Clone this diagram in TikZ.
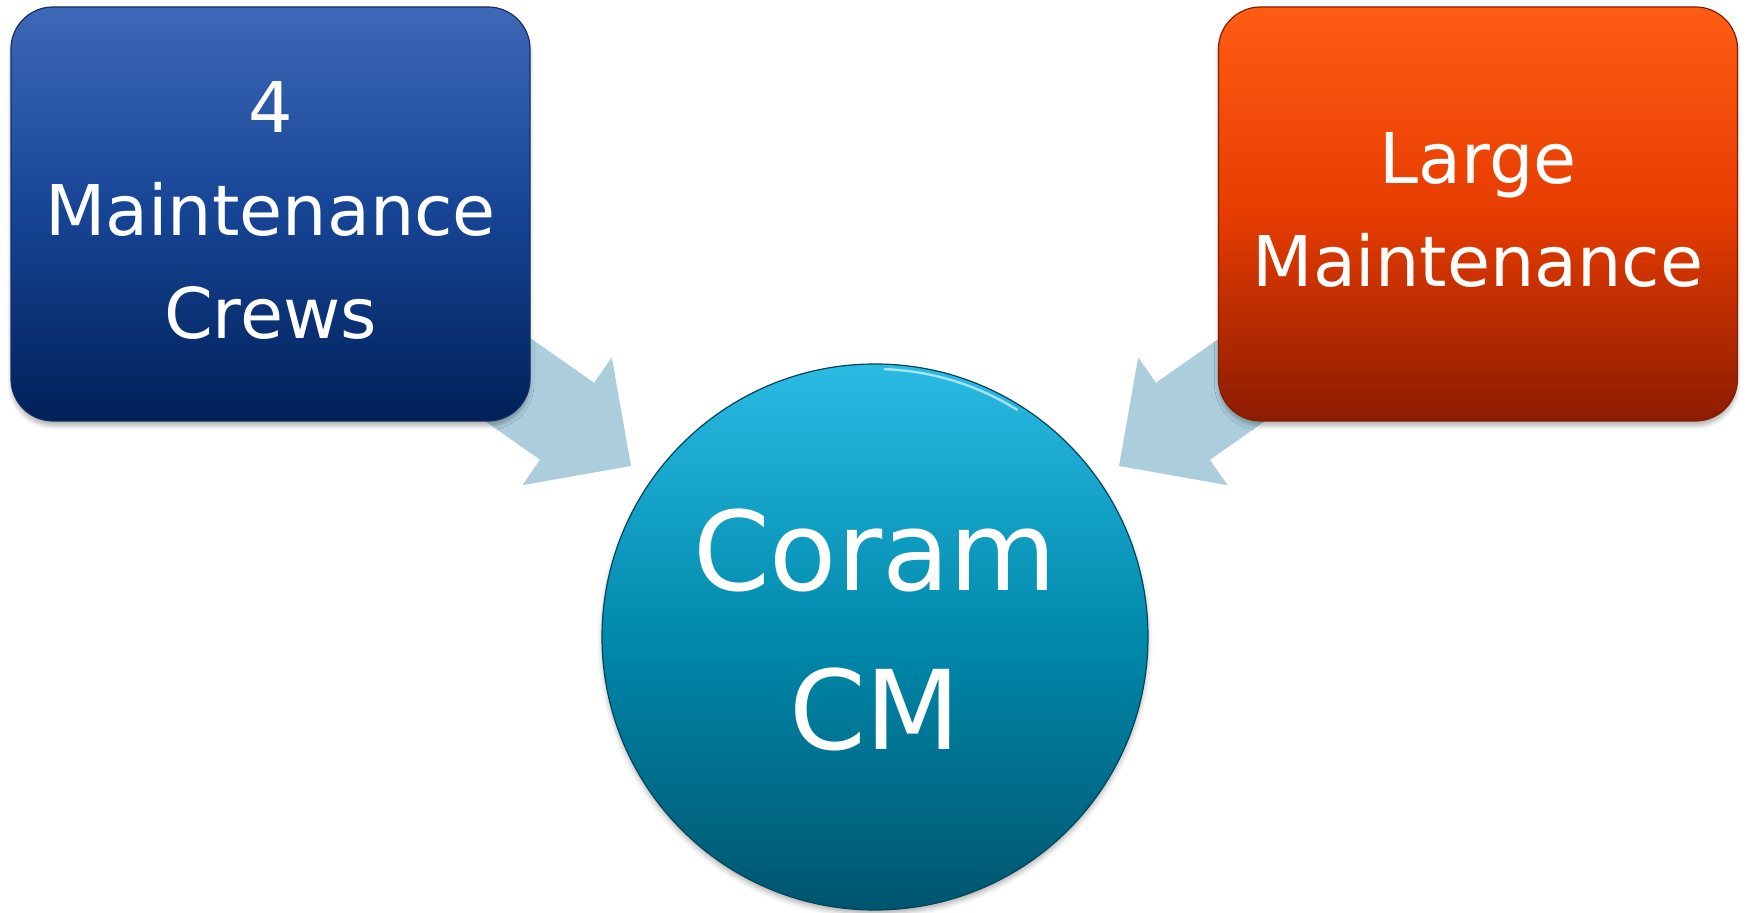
\documentclass[tikz,border=0pt]{standalone}
\usepackage{fontspec}
\setmainfont{DejaVu Sans}
\usetikzlibrary{shadows.blur}
\definecolor{blueTop}{RGB}{62,104,184}
\definecolor{blueMid}{RGB}{22,68,148}
\definecolor{blueBot}{RGB}{0,32,88}
\definecolor{blueEdge}{RGB}{20,45,100}
\definecolor{orTop}{RGB}{255,92,20}
\definecolor{orMid}{RGB}{230,60,0}
\definecolor{orBot}{RGB}{140,28,0}
\definecolor{orEdge}{RGB}{130,30,0}
\definecolor{ciTop}{RGB}{42,187,227}
\definecolor{ciMid}{RGB}{0,137,172}
\definecolor{ciBot}{RGB}{0,85,110}
\definecolor{ciEdge}{RGB}{0,70,90}
\definecolor{arrowFill}{RGB}{172,206,220}
\tikzset{
  sqbox/.style={rounded corners=21pt, minimum width=259.5pt, minimum height=207pt,
    inner sep=0pt, line width=0.6pt,
    blur shadow={shadow xshift=0pt, shadow yshift=-2.5pt, shadow blur radius=2pt, shadow opacity=28}},
  boxtext/.style={inner sep=0pt, align=center, text=white, font=\fontsize{35}{51.5}\selectfont},
  hubcircle/.style={circle, minimum size=273pt, inner sep=0pt, line width=0.6pt,
    top color=ciTop, bottom color=ciBot, middle color=ciMid, draw=ciEdge,
    blur shadow={shadow xshift=0pt, shadow yshift=-2pt, shadow blur radius=2.5pt, shadow opacity=30}},
  hubtext/.style={inner sep=0pt, align=center, text=white, font=\fontsize{55}{79.5}\selectfont},
  bigarrow/.style={fill=arrowFill, draw=none}
}
\begin{document}
\begin{tikzpicture}[x=0.5pt, y=-0.5pt]
\useasboundingbox (0,0) rectangle (1747,913);
% arrows (behind)
\coordinate (lt) at (631,466);
\filldraw[bigarrow] (lt) -- (611.8,357.4) -- (594.1,382.8) -- (387.7,238.2) -- (333.7,315.2) -- (540.1,459.8) -- (522.4,485.2) -- cycle;
\coordinate (rt) at (1119,466);
\filldraw[bigarrow] (rt) -- (1138.2,357.4) -- (1155.9,382.8) -- (1362.3,238.2) -- (1416.3,315.2) -- (1209.9,459.8) -- (1227.6,485.2) -- cycle;
% boxes
\node[sqbox, top color=blueTop, bottom color=blueBot, middle color=blueMid, draw=blueEdge] (crews) at (270.5,214) {};
\node[boxtext] (crewsT) at ([yshift=1.8pt]crews.center) {4\\Maintenance\\Crews};
\node[sqbox, top color=orTop, bottom color=orBot, middle color=orMid, draw=orEdge] (large) at (1478,214) {};
\node[boxtext] (largeT) at ([yshift=1.8pt]large.center) {Large\\Maintenance};
% hub
\node[hubcircle] (hub) at (875,637) {};
\node[hubtext] (hubT) at ([yshift=3.5pt]hub.center) {Coram\\CM};
% gloss highlight
\draw[white, opacity=0.6, line width=1.2pt, line cap=round] (hub.center) ++(-88:268) arc[start angle=-88, end angle=-58, radius=268];
\end{tikzpicture}
\end{document}
